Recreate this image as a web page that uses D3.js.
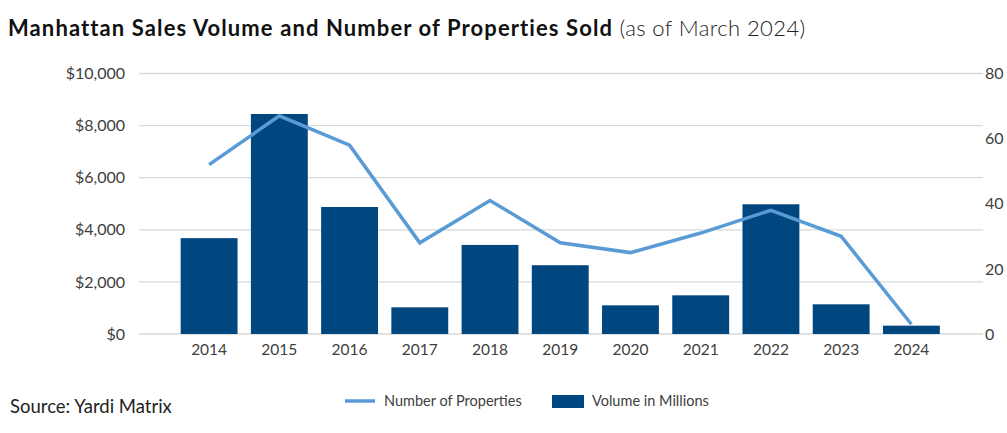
<!DOCTYPE html>
<html>
<head>
<meta charset="utf-8">
<script src="https://cdn.jsdelivr.net/npm/d3@7"></script>
<style>
  body { margin: 0; background: #fff; }
  text { font-family: Lato, "Open Sans", sans-serif; }
</style>
</head>
<body>
<div id="chart"></div>
<script>
// data
var years = ["2014", "2015", "2016", "2017", "2018", "2019", "2020", "2021", "2022", "2023", "2024"];
var volume = [3680, 8445, 4875, 1025, 3420, 2640, 1100, 1485, 4980, 1140, 320];
var properties = [52, 67, 58, 28, 41, 28, 25, 31, 38, 30, 3];
var leftTicks = [0, 2000, 4000, 6000, 8000, 10000];
var rightTicks = [0, 20, 40, 60, 80];

var svgWidth = 1007;
var svgHeight = 433;

var barColor = "#00467f";
var lineColor = "#5b9bd5";

var svg = d3.select("#chart").append("svg")
  .attr("width", svgWidth)
  .attr("height", svgHeight);

// plot area
var plotTop = 73.5, plotBottom = 334;
var gridLeft = 139, gridRight = 983;

var x = d3.scaleBand()
  .domain(years)
  .range([174, 946.5])
  .paddingInner(0.19)
  .paddingOuter(0.095);

var yLeft = d3.scaleLinear().domain([0, 10000]).range([plotBottom, plotTop]);
var yRight = d3.scaleLinear().domain([0, 80]).range([plotBottom, plotTop]);

// gridlines
svg.append("g")
  .selectAll("line")
  .data(leftTicks)
  .enter()
  .append("line")
  .attr("x1", gridLeft)
  .attr("x2", gridRight)
  .attr("y1", d => yLeft(d))
  .attr("y2", d => yLeft(d))
  .attr("stroke", "#d9d9d9")
  .attr("stroke-width", 1.3);

// left axis labels
var leftAxis = d3.axisLeft(yLeft)
  .tickValues(leftTicks)
  .tickSize(0)
  .tickPadding(0)
  .tickFormat(d => "$" + d3.format(",")(d));
var gl = svg.append("g").attr("transform", "translate(125,0)").call(leftAxis);
gl.select(".domain").remove();
gl.selectAll("text").attr("font-size", "16px").attr("fill", "#404040")
  .attr("font-family", "Lato, sans-serif");

// right axis labels
var rightAxis = d3.axisRight(yRight)
  .tickValues(rightTicks)
  .tickSize(0)
  .tickPadding(0);
var gr = svg.append("g").attr("transform", "translate(985,0)").call(rightAxis);
gr.select(".domain").remove();
gr.selectAll("text").attr("font-size", "16px").attr("fill", "#404040")
  .attr("font-family", "Lato, sans-serif");

// bottom axis labels
var bottomAxis = d3.axisBottom(x).tickSize(0).tickPadding(10);
var gb = svg.append("g").attr("transform", `translate(0, ${plotBottom})`).call(bottomAxis);
gb.select(".domain").remove();
gb.selectAll("text").attr("font-size", "15.5px").attr("fill", "#404040")
  .attr("font-family", "Lato, sans-serif");

// bars
svg.append("g")
  .selectAll("rect")
  .data(volume)
  .enter()
  .append("rect")
  .attr("x", (d, i) => x(years[i]))
  .attr("y", d => yLeft(d))
  .attr("width", x.bandwidth())
  .attr("height", d => plotBottom - yLeft(d))
  .attr("fill", barColor);

// line
var line = d3.line()
  .x((d, i) => x(years[i]) + x.bandwidth() / 2)
  .y(d => yRight(d));

svg.append("path")
  .datum(properties)
  .attr("d", line)
  .attr("fill", "none")
  .attr("stroke", lineColor)
  .attr("stroke-width", 3.5);

// title
var title = svg.append("text")
  .attr("x", 8)
  .attr("y", 36)
  .attr("font-size", "22px")
  .attr("fill", "#111");
title.append("tspan")
  .attr("font-weight", "bold")
  .attr("letter-spacing", "1.1px")
  .text("Manhattan Sales Volume and Number of Properties Sold");
title.append("tspan")
  .attr("font-weight", "300")
  .attr("letter-spacing", "0.4px")
  .attr("fill", "#222")
  .text(" (as of March 2024)");

// source
svg.append("text")
  .attr("x", 10)
  .attr("y", 413)
  .attr("font-size", "18.5px")
  .attr("fill", "#222")
  .text("Source: Yardi Matrix");

// legend
var legend = svg.append("g").attr("font-size", "14.5px").attr("fill", "#404040");
legend.append("line")
  .attr("x1", 345).attr("x2", 375)
  .attr("y1", 401).attr("y2", 401)
  .attr("stroke", lineColor)
  .attr("stroke-width", 3.5);
legend.append("text")
  .attr("x", 384).attr("y", 406)
  .text("Number of Properties");
legend.append("rect")
  .attr("x", 552).attr("y", 395)
  .attr("width", 32).attr("height", 13)
  .attr("fill", barColor);
legend.append("text")
  .attr("x", 592).attr("y", 406)
  .text("Volume in Millions");
</script>
</body>
</html>
